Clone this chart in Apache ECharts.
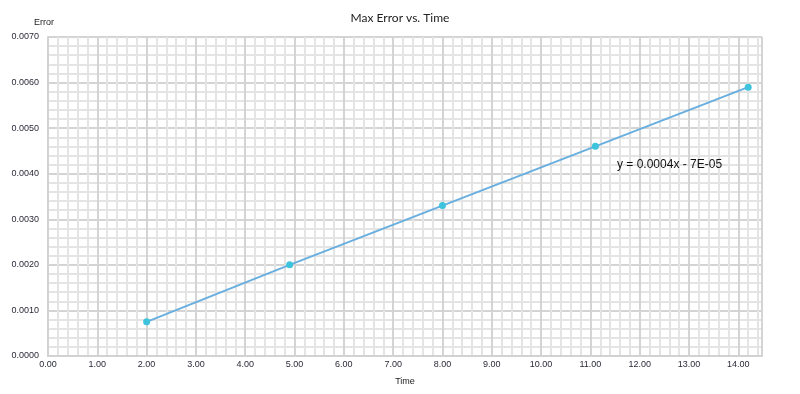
<!DOCTYPE html>
<html><head><meta charset="utf-8">
<script src="https://cdn.jsdelivr.net/npm/echarts@6/dist/echarts.min.js"></script>
<style>html,body{margin:0;padding:0;background:#fff}#c{width:800px;height:394px}</style>
</head><body><div id="c"></div>
<script>
const times = [2.0, 4.9, 8.0, 11.1, 14.2];
const maxErrors = [0.00075, 0.0020, 0.0033, 0.0046, 0.0059];
const titleText = 'Max Error vs. Time';
const trendText = 'y = 0.0004x - 7E-05';

const chart = echarts.init(document.getElementById('c'));
chart.setOption({
  animation: false,
  title: { text: titleText, left: 'center', top: 7, textStyle: { fontSize: 12, fontWeight: 'normal', color: '#222', fontFamily: 'Lato' } },
  grid: { left: 48, right: 38, top: 37, bottom: 38 },
  xAxis: {
    type: 'value', min: 0, max: 14.48, interval: 1,
    name: 'Time', nameLocation: 'middle', nameGap: 21,
    nameTextStyle: { fontSize: 9, color: '#222', fontFamily: 'Liberation Sans' },
    axisLine: { show: true, lineStyle: { color: '#d2d2d2', width: 2 } },
    axisTick: { show: false },
    axisLabel: { formatter: v => v.toFixed(2), fontSize: 9, color: '#2a2a3a', margin: 4, fontFamily: 'Liberation Sans', showMaxLabel: false },
    splitLine: { show: true, lineStyle: { color: '#d4d4d4', width: 2 } },
    minorTick: { show: false, splitNumber: 5 },
    minorSplitLine: { show: true, lineStyle: { color: '#e4e4e4', width: 2 } }
  },
  yAxis: {
    type: 'value', min: 0, max: 0.007, interval: 0.001,
    name: 'Error', nameLocation: 'end', nameGap: 10,
    nameTextStyle: { fontSize: 9, color: '#222', fontFamily: 'Liberation Sans', align: 'right', padding: [0, -6, 0, 0] },
    axisLine: { show: true, lineStyle: { color: '#d2d2d2', width: 2 } },
    axisTick: { show: false },
    axisLabel: { formatter: v => v.toFixed(4), fontSize: 9, color: '#2a2a3a', margin: 9, fontFamily: 'Liberation Sans' },
    splitLine: { show: true, lineStyle: { color: '#d4d4d4', width: 2 } },
    minorTick: { show: false, splitNumber: 5 },
    minorSplitLine: { show: true, lineStyle: { color: '#e4e4e4', width: 2 } }
  },
  series: [{
    type: 'line',
    data: times.map((t, i) => [t, maxErrors[i]]),
    symbol: 'circle', symbolSize: 7,
    lineStyle: { color: '#68afe0', width: 2 },
    itemStyle: { color: '#3ec3dc' },
    z: 5
  }],
  graphic: [{
    type: 'text', left: 617, top: 159, z: 100,
    style: { text: trendText, fontSize: 12, fill: '#111', fontFamily: 'Liberation Sans' }
  }]
});
</script></body></html>
